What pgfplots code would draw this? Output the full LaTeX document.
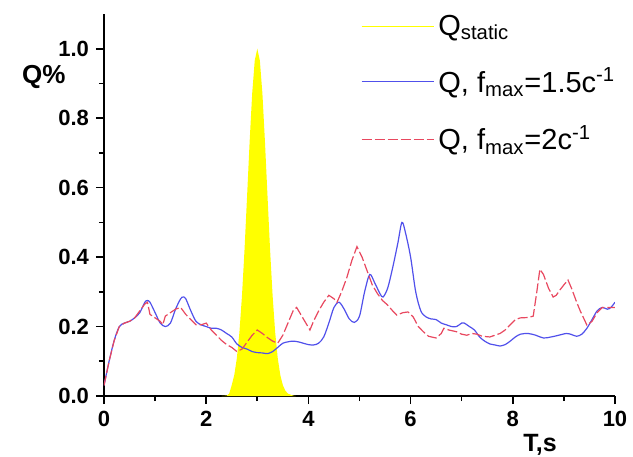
\documentclass[border=0pt]{standalone}
\usepackage{fontspec}
\setmainfont{Liberation Sans}
\usepackage{pgfplots}
\pgfplotsset{compat=1.18}
\usetikzlibrary{calc}
\definecolor{qblue}{RGB}{80,80,235}
\definecolor{qred}{RGB}{232,72,95}
\definecolor{qyel}{RGB}{255,255,0}

\begin{document}
\begin{tikzpicture}
\begin{axis}[
  scale only axis, width=255.5pt, height=191pt,
  xmin=0, xmax=10, ymin=0, ymax=1.1,
  clip mode=individual,
  axis lines*=left, axis line style={line width=1pt},
  tick align=outside, major tick length=4pt, minor tick length=2.5pt,
  every tick/.style={black, line width=0.8pt},
  xtick={0,2,4,6,8,10}, minor x tick num=1,
  ytick={0,0.2,0.4,0.6,0.8,1.0}, minor y tick num=1,
  yticklabel style={/pgf/number format/.cd, fixed, fixed zerofill, precision=1},
  /pgf/number format/assume math mode=true,
  ticklabel style={font=\bfseries\fontsize{11}{13}\selectfont},
  xlabel={T,s},
  xlabel style={font=\bfseries\fontsize{12.5}{15}\selectfont, at={(axis description cs:0.83,0)}, anchor=base, yshift=-27.5pt, xshift=6pt},
  legend style={draw=none, fill=none, at={(0.49,1.02)}, anchor=north west,
    font=\fontsize{14.5}{16}\selectfont, row sep=11pt,
    every odd column/.append style={xshift=-2pt},
    every even column/.append style={xshift=2pt}},
  legend cell align=left,
  legend image code/.code={\draw[#1] (0pt,0pt) -- (36pt,0pt);},
]
\coordinate (bl) at (rel axis cs:0,0);
\coordinate (tr) at (rel axis cs:1,1);
\node[anchor=west, font=\bfseries\fontsize{13}{15}\selectfont, xshift=-44.5pt] at (axis cs:0,0.918) {Q\%};

\addplot[draw=none, fill=qyel, legend image code/.code={\draw[qyel, line width=0.8pt] (0pt,0pt) -- (36pt,0pt);}] coordinates {
(2.3,0) (2.4,0.0011) (2.45,0.0068) (2.5,0.0313) (2.55,0.0605) (2.6,0.109) (2.65,0.183)
(2.7,0.288) (2.75,0.421) (2.8,0.575) (2.85,0.732) (2.9,0.871) (2.95,0.966) (3.0,1.0)
(3.05,0.966) (3.1,0.871) (3.15,0.732) (3.2,0.575) (3.25,0.421) (3.3,0.288) (3.35,0.183)
(3.4,0.109) (3.45,0.0605) (3.5,0.0313) (3.55,0.0151) (3.6,0.0068) (3.7,0.0011) (3.75,0)
} \closedcycle;
\addlegendentry{Q\textsubscript{static}}

\addplot[qblue, line width=0.6pt, smooth] coordinates {
(0,0.03) (0.1,0.10) (0.2,0.16) (0.3,0.20) (0.4,0.21) (0.5,0.215) (0.6,0.225) (0.7,0.24)
(0.8,0.27) (0.85,0.275) (0.9,0.27) (1.0,0.24) (1.1,0.21) (1.2,0.20) (1.3,0.21) (1.4,0.25)
(1.5,0.28) (1.55,0.285) (1.6,0.28) (1.7,0.245) (1.8,0.215) (1.9,0.205) (2.0,0.20) (2.1,0.195)
(2.2,0.195) (2.3,0.19) (2.4,0.18) (2.5,0.17) (2.6,0.15) (2.7,0.14) (2.8,0.135) (2.9,0.128)
(3.0,0.125) (3.1,0.124) (3.2,0.122) (3.3,0.128) (3.4,0.14) (3.5,0.152) (3.6,0.156) (3.7,0.158)
(3.8,0.156) (3.9,0.152) (4.0,0.148) (4.1,0.147) (4.2,0.152) (4.3,0.17) (4.4,0.21) (4.5,0.255)
(4.6,0.27) (4.7,0.25) (4.8,0.222) (4.9,0.212) (5.0,0.23) (5.1,0.3) (5.2,0.35) (5.3,0.325)
(5.4,0.295) (5.46,0.285) (5.55,0.31) (5.65,0.37) (5.75,0.44) (5.83,0.50) (5.9,0.47) (6.0,0.40)
(6.1,0.30) (6.2,0.245) (6.3,0.228) (6.4,0.222) (6.5,0.22) (6.6,0.21) (6.7,0.205) (6.8,0.2)
(6.9,0.2) (7.0,0.21) (7.05,0.21) (7.15,0.2) (7.25,0.19) (7.35,0.17) (7.45,0.158) (7.55,0.15)
(7.65,0.147) (7.75,0.144) (7.85,0.148) (7.95,0.158) (8.05,0.17) (8.15,0.178) (8.3,0.18)
(8.45,0.175) (8.6,0.167) (8.75,0.17) (8.9,0.175) (9.05,0.18) (9.15,0.177) (9.25,0.172)
(9.35,0.178) (9.45,0.195) (9.55,0.22) (9.65,0.245) (9.75,0.255) (9.85,0.25) (9.92,0.255) (10,0.27)
};
\addlegendentry{Q, f\textsubscript{max}=1.5c\textsuperscript{-1}}

\addplot[qred, line width=0.6pt, dash pattern=on 5pt off 1.5pt] coordinates {
(0,0.03) (0.1,0.10) (0.2,0.16) (0.3,0.20) (0.4,0.21) (0.5,0.215) (0.6,0.225) (0.7,0.245)
(0.8,0.265) (0.85,0.27) (0.9,0.235) (1.0,0.225) (1.1,0.215) (1.15,0.205) (1.2,0.23) (1.3,0.24)
(1.4,0.25) (1.5,0.255) (1.6,0.235) (1.7,0.22) (1.8,0.205) (1.9,0.205) (2.0,0.21) (2.1,0.19)
(2.2,0.175) (2.3,0.16) (2.4,0.148) (2.5,0.14) (2.6,0.128) (2.7,0.135) (2.8,0.155) (2.9,0.175)
(3.0,0.19) (3.1,0.18) (3.2,0.168) (3.3,0.158) (3.4,0.152) (3.5,0.175) (3.6,0.21) (3.7,0.245)
(3.77,0.255) (3.85,0.235) (3.95,0.21) (4.03,0.19) (4.1,0.215) (4.2,0.245) (4.3,0.27) (4.4,0.29)
(4.5,0.28) (4.56,0.27) (4.65,0.3) (4.75,0.34) (4.85,0.39) (4.95,0.43) (5.05,0.40) (5.15,0.36)
(5.25,0.32) (5.35,0.295) (5.45,0.275) (5.55,0.262) (5.65,0.245) (5.73,0.233) (5.85,0.24)
(5.95,0.242) (6.05,0.228) (6.15,0.2) (6.25,0.185) (6.35,0.172) (6.5,0.167) (6.6,0.18)
(6.65,0.195) (6.75,0.19) (6.9,0.185) (7.0,0.178) (7.1,0.175) (7.2,0.18) (7.3,0.178) (7.4,0.172)
(7.55,0.17) (7.65,0.175) (7.75,0.18) (7.85,0.19) (7.95,0.205) (8.05,0.22) (8.15,0.225)
(8.3,0.226) (8.4,0.23) (8.47,0.3) (8.53,0.365) (8.6,0.35) (8.7,0.31) (8.79,0.285) (8.85,0.29)
(8.92,0.305) (9.0,0.32) (9.08,0.334) (9.15,0.31) (9.25,0.27) (9.32,0.245) (9.4,0.22)
(9.45,0.204) (9.55,0.215) (9.65,0.24) (9.75,0.255) (9.85,0.255) (10,0.255)
};
\addlegendentry{Q, f\textsubscript{max}=2c\textsuperscript{-1}}
\end{axis}
\pgfresetboundingbox
\path ($(bl)+(-52pt,-30pt)$) rectangle ($(tr)+(9pt,7pt)$);
\end{tikzpicture}
\end{document}
